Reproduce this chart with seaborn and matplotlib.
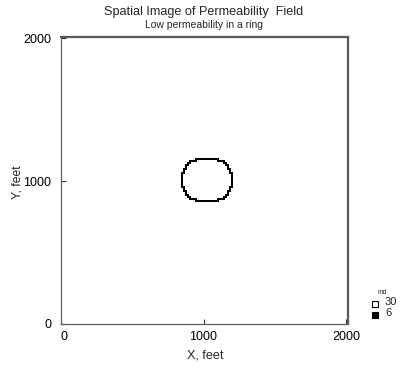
import numpy as np
import pandas as pd
import seaborn as sns
import matplotlib
matplotlib.use("Agg")
import matplotlib.pyplot as plt
from matplotlib.colors import ListedColormap
from matplotlib.patches import Rectangle

# --- field definition -------------------------------------------------------
cell_ft = 14.0                 # grid block size, feet
n_cells = 144                  # blocks per side
k_background = 30              # md
k_ring = 6                     # md
ring_center_ft = (1022.0, 1008.0)
ring_half_axes_ft = (180.0, 159.0)
ring_shape_exponent = 2.5

legend_values = [30, 6]
legend_colors = ["white", "black"]
legend_title = "md"

x_ticks_ft = [0, 1000, 2000]
y_ticks_ft = [0, 1000, 2000]
x_limit_ft = 2014
y_limit_ft = 2007

title = "Spatial Image of Permeability  Field"
subtitle = "Low permeability in a ring"
x_label = "X, feet"
y_label = "Y, feet"

# --- build the permeability grid -------------------------------------------
centers = (np.arange(n_cells) + 0.5) * cell_ft
gx, gy = np.meshgrid(centers, centers)
p = ring_shape_exponent
inside = (np.abs((gx - ring_center_ft[0]) / ring_half_axes_ft[0]) ** p +
          np.abs((gy - ring_center_ft[1]) / ring_half_axes_ft[1]) ** p) <= 1.0
pad = np.pad(inside, 1, constant_values=False)
# a block is on the ring if it is inside and touches the outside (8-neighbour)
all_in = np.ones_like(inside)
for dy in (-1, 0, 1):
    for dx in (-1, 0, 1):
        all_in &= pad[1 + dy:1 + dy + n_cells, 1 + dx:1 + dx + n_cells]
edge = inside & ~all_in
perm = np.where(edge, k_ring, k_background)
field = pd.DataFrame(perm)

# --- figure -----------------------------------------------------------------
W, H = 406, 366
sns.set_theme(style="white")
plt.rcParams["font.family"] = ["Liberation Sans", "DejaVu Sans"]
fig = plt.figure(figsize=(W / 100, H / 100), dpi=100)
fig.patch.set_facecolor("white")

L, R, B, T = 61, 348, 324, 37
ax = fig.add_axes([L / W, 1 - B / H, (R - L) / W, (B - T) / H])

sns.heatmap(field, ax=ax, cmap=ListedColormap(["black", "white"]),
            vmin=k_ring, vmax=k_background, cbar=False, linewidths=0,
            xticklabels=False, yticklabels=False)

ax.set_axisbelow(False)
ax.set_xlim(0, x_limit_ft / cell_ft)
ax.set_ylim(0, y_limit_ft / cell_ft)
ax.set_xticks([v / cell_ft for v in x_ticks_ft])
ax.set_xticklabels([str(v) for v in x_ticks_ft])
ax.set_yticks([v / cell_ft for v in y_ticks_ft])
ax.set_yticklabels([str(v) for v in y_ticks_ft], rotation=0)
ax.set_xlabel("")
ax.set_ylabel("")
ax.tick_params(axis="both", direction="in", length=3.5, width=0.8,
               color="#333333", labelsize=9.0, labelcolor="black",
               bottom=True, left=True, top=False, right=False)
ax.tick_params(axis="x", pad=5)
ax.tick_params(axis="y", pad=7)
ax.get_xticklabels()[0].set_horizontalalignment("left")

for name, sp in ax.spines.items():
    sp.set_visible(True)
    sp.set_zorder(5)
    if name in ("top", "right"):
        sp.set_color("#5a5a5a")
        sp.set_linewidth(1.6)
    else:
        sp.set_color("#606060")
        sp.set_linewidth(0.9)

# titles and axis labels
fig.text(204 / W, 1 - 12 / H, title, ha="center", va="center", fontsize=9.1)
fig.text(204 / W, 1 - 25 / H, subtitle, ha="center", va="center", fontsize=7.5)
fig.text(205 / W, 1 - 355 / H, x_label, ha="center", va="center", fontsize=9.1)
fig.text(18 / W, 1 - 182 / H, y_label, ha="center", va="center",
         rotation=90, fontsize=8.8)

# legend
fig.text(382 / W, 1 - 293 / H, legend_title, ha="center", va="center",
         fontsize=4.8)
for i, (val, col) in enumerate(zip(legend_values, legend_colors)):
    cy = 304 + i * 11
    fig.add_artist(Rectangle((372 / W, 1 - (cy + 3) / H), 6 / W, 6 / H,
                             transform=fig.transFigure, facecolor=col,
                             edgecolor="black", linewidth=0.8))
    fig.text(385 / W, 1 - (cy - 2) / H, str(val), ha="left", va="center",
             fontsize=8)

fig.savefig("out.png", dpi=100, facecolor="white")
